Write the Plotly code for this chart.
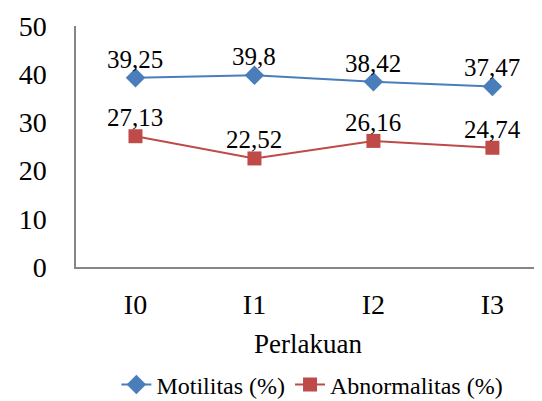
import plotly.graph_objects as go

categories = ["I0", "I1", "I2", "I3"]
motilitas = [39.25, 39.8, 38.42, 37.47]
abnormalitas = [27.13, 22.52, 26.16, 24.74]
y_ticks = [0, 10, 20, 30, 40, 50]

def lab(vals):
    return [("%g" % v).replace(".", ",") for v in vals]

FONT = "Liberation Serif"

fig = go.Figure()
fig.add_trace(go.Scatter(
    x=categories, y=motilitas, name="Motilitas (%)",
    mode="lines+markers",
    line=dict(color="#4a7ebb", width=2),
    marker=dict(symbol="diamond", size=15, color="#4a7ebb"),
))
fig.add_trace(go.Scatter(
    x=categories, y=abnormalitas, name="Abnormalitas (%)",
    mode="lines+markers",
    line=dict(color="#be4b48", width=2),
    marker=dict(symbol="square", size=14, color="#be4b48"),
))

for vals in (motilitas, abnormalitas):
    for c, v, t in zip(categories, vals, lab(vals)):
        fig.add_annotation(x=c, y=v, text=t, showarrow=False, yanchor="bottom",
                           yshift=3, font=dict(family=FONT, size=25, color="black"))

fig.update_layout(
    width=534, height=393,
    margin=dict(l=68, r=2, t=18, b=134, autoexpand=False),
    paper_bgcolor="white", plot_bgcolor="white",
    font=dict(family=FONT, size=22, color="black"),
    showlegend=True,
    legend=dict(orientation="h", x=0.57, xanchor="center", xref="container",
                y=0.041, yanchor="middle", yref="container",
                font=dict(family=FONT, size=24), traceorder="normal"),
    xaxis=dict(
        range=[-0.5, 3.4], showline=True, linecolor="#868686", linewidth=1.5,
        showgrid=False, ticks="", ticklabelstandoff=12,
        tickfont=dict(family=FONT, size=28),
        title=dict(text="Perlakuan", font=dict(family=FONT, size=27), standoff=15),
    ),
    yaxis=dict(
        range=[0, 50], tickvals=y_ticks, showline=True, linecolor="#868686",
        linewidth=1.5, showgrid=False, ticks="", ticklabelstandoff=22,
        tickfont=dict(family=FONT, size=28), zeroline=False,
    ),
)

fig.write_html("out.html")
